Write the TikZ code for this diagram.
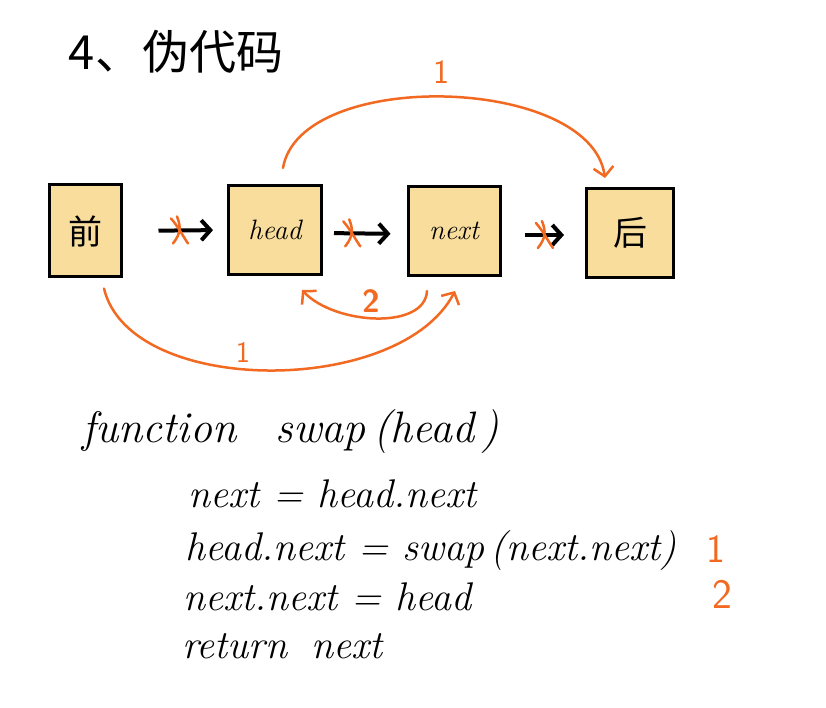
\documentclass[tikz,border=0pt]{standalone}
\usepackage{fontspec}
\newfontfamily\cjk{Noto Sans CJK SC}
\usetikzlibrary{arrows.meta}
\definecolor{boxfill}{HTML}{F8DD9C}
\definecolor{ora}{HTML}{F26A22}
\begin{document}
\begin{tikzpicture}[x=1pt,y=-1pt,
  box/.style={draw=black, line width=3pt, fill=boxfill, inner sep=0pt},
  link/.style={draw=black, line width=4pt, -{Straight Barb[length=9pt,width=20pt]}},
  crossline/.style={draw=ora, line width=2.5pt, line cap=round},
  arcline/.style={draw=ora, line width=2.5pt, line cap=round, -{Straight Barb[length=9pt,width=20pt]}},
  boxtext/.style={font=\fontsize{28}{30}\selectfont\itshape},
  cjktext/.style={font=\cjk\fontsize{34}{36}\selectfont},
  code/.style={anchor=base west, inner sep=0pt, font=\fontsize{40}{48}\selectfont\itshape},
  num/.style={text=ora, inner sep=0pt}
]
\fill[white] (0,0) rectangle (826,708);
\useasboundingbox (0,0) rectangle (826,708);

% title
\node[font=\cjk\fontsize{47}{50}\selectfont, inner sep=0pt] (title) at (176,52) {4、伪代码};

% boxes
\node[box, cjktext, minimum width=72pt, minimum height=92pt] (qian) at (85,231) {前};
\node[box, boxtext, minimum width=93pt, minimum height=89pt] (head) at (275,230) {head};
\node[box, boxtext, minimum width=92pt, minimum height=89pt] (next) at (454,231) {next};
\node[box, cjktext, minimum width=87pt, minimum height=89pt] (hou) at (630,233) {后};

% black links
\draw[link, shorten <=36pt, shorten >=14pt] (qian.east) -- (head.west)
  coordinate[pos=0.55] (x1);
\draw[link, shorten <=11pt, shorten >=16pt] ([yshift=-3pt]head.east) -- ([yshift=-3pt]next.west)
  coordinate[pos=0.35] (x2);
\draw[link, shorten <=23pt, shorten >=21pt] ([yshift=-4pt]next.east) -- ([yshift=-2pt]hou.west)
  coordinate[pos=0.52] (x3);

% orange crosses
\foreach \c in {x1,x2,x3}{
  \draw[crossline] ([xshift=-9pt,yshift=12pt]\c) .. controls ([xshift=-2pt,yshift=4pt]\c) and ([xshift=2pt,yshift=-4pt]\c) .. ([xshift=8pt,yshift=-13pt]\c);
  \draw[crossline] ([xshift=-7pt,yshift=-13pt]\c) .. controls ([xshift=1pt,yshift=-3pt]\c) and ([xshift=1pt,yshift=4pt]\c) .. ([xshift=-3pt,yshift=14pt]\c);
}

% orange arcs
\draw[arcline] ([xshift=8pt,yshift=16pt]head.north) .. controls (300,68) and (590,75) .. ([xshift=-25pt,yshift=9pt]hou.north);
\node[num, font=\sffamily\fontsize{34}{36}\selectfont] (n1top) at (441,72) {1};

\draw[arcline] ([xshift=19pt,yshift=-10pt]qian.south) .. controls (130,397) and (400,397) .. ([xshift=1pt,yshift=-14pt]next.south);
\node[num, font=\sffamily\fontsize{30}{32}\selectfont] (n1bot) at (243,352) {1};

\draw[arcline] ([xshift=-27pt,yshift=-14pt]next.south) .. controls (425,330) and (335,325) .. ([xshift=27pt,yshift=-14pt]head.south);
\node[num, font=\sffamily\bfseries\fontsize{32}{34}\selectfont] (n2) at (371,301) {2};

% pseudo code
\node[code, font=\fontsize{44}{48}\selectfont\itshape] (c1) at (82,442) {function\hspace{0.9em}swap\,(head\,)};
\node[code] (c2) at (188,507) {next = head.next};
\node[code] (c3) at (185,560) {head.next = swap\,(next.next)};
\node[code] (c4) at (183,610) {next.next = head};
\node[code] (c5) at (182,658) {return\hspace{0.6em}next};

\node[num, anchor=base, font=\sffamily\fontsize{40}{44}\selectfont] (m1) at (716,562) {1};
\node[num, anchor=base, font=\sffamily\fontsize{42}{44}\selectfont] (m2) at (722,608) {2};
\end{tikzpicture}
\end{document}
